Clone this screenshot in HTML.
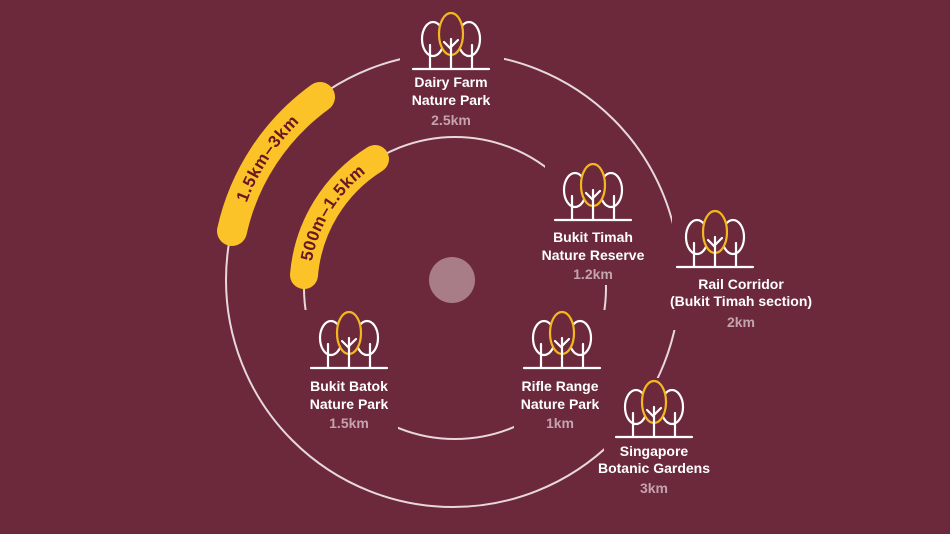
<!DOCTYPE html>
<html><head><meta charset="utf-8"><style>
body{margin:0;background:#6b293b;}
svg{display:block}
.t{font-family:"Liberation Sans",sans-serif;font-weight:bold;font-size:14px;fill:#fff;text-anchor:middle}
.k{font-family:"Liberation Sans",sans-serif;font-weight:bold;font-size:14px;fill:#c4a3ac;text-anchor:middle}
.p{font-family:"Liberation Sans",sans-serif;font-weight:bold;font-size:17px;fill:#6b1525;letter-spacing:1px}
</style></head><body>
<svg width="950" height="534" viewBox="0 0 950 534">
<defs>
<g id="tree" fill="#6b293b" stroke-width="2.2" stroke-linecap="round">
<ellipse cx="-18" cy="-30" rx="11" ry="17" stroke="#fff"/>
<ellipse cx="18" cy="-30" rx="11" ry="17" stroke="#fff"/>
<ellipse cx="0" cy="-35" rx="12" ry="21" stroke="#f4b81f"/>
<g stroke="#fff">
<line x1="-38" y1="0" x2="38" y2="0"/>
<line x1="-21" y1="0" x2="-21" y2="-24"/>
<line x1="21" y1="0" x2="21" y2="-24"/>
<line x1="0" y1="0" x2="0" y2="-30"/>
<line x1="0" y1="-20" x2="-7" y2="-27"/>
<line x1="0" y1="-22" x2="7" y2="-29"/>
</g></g>
<path id="a1" d="M 232 231 A 226 226 0 0 1 320 97"/>
<path id="a2" d="M 304 275 A 152 152 0 0 1 375 159"/>
</defs>
<circle cx="453" cy="280" r="227" fill="none" stroke="#e8d8dc" stroke-width="2"/>
<circle cx="455" cy="288" r="151" fill="none" stroke="#e8d8dc" stroke-width="2"/>
<circle cx="452" cy="280" r="23" fill="#a97d88"/>
<use href="#a1" stroke="#fbc327" stroke-width="30" stroke-linecap="round" fill="none"/>
<use href="#a2" stroke="#fbc327" stroke-width="28" stroke-linecap="round" fill="none"/>
<text class="p" dy="6"><textPath href="#a1" startOffset="50%" text-anchor="middle">1.5km–3km</textPath></text>
<text class="p" dy="6"><textPath href="#a2" startOffset="50%" text-anchor="middle">500m–1.5km</textPath></text>

<rect x="400" y="5" width="104" height="125" fill="#6b293b"/>
<use href="#tree" x="451" y="69"/>
<text class="t" x="451" y="87">Dairy Farm</text><text class="t" x="451" y="105">Nature Park</text><text class="k" x="451" y="125">2.5km</text>

<rect x="545" y="160" width="95" height="125" fill="#6b293b"/>
<use href="#tree" x="593" y="220"/>
<text class="t" x="593" y="242">Bukit Timah</text><text class="t" x="593" y="260">Nature Reserve</text><text class="k" x="593" y="279">1.2km</text>

<rect x="672" y="212" width="133" height="118" fill="#6b293b"/>
<use href="#tree" x="715" y="267"/>
<text class="t" x="741" y="289">Rail Corridor</text><text class="t" x="741" y="306">(Bukit Timah section)</text><text class="k" x="741" y="327">2km</text>

<rect x="302" y="310" width="96" height="125" fill="#6b293b"/>
<use href="#tree" x="349" y="368"/>
<text class="t" x="349" y="391">Bukit Batok</text><text class="t" x="349" y="409">Nature Park</text><text class="k" x="349" y="428">1.5km</text>

<rect x="514" y="310" width="96" height="125" fill="#6b293b"/>
<use href="#tree" x="562" y="368"/>
<text class="t" x="560" y="391">Rifle Range</text><text class="t" x="560" y="409">Nature Park</text><text class="k" x="560" y="428">1km</text>

<rect x="604" y="378" width="104" height="117" fill="#6b293b"/>
<use href="#tree" x="654" y="437"/>
<text class="t" x="654" y="456">Singapore</text><text class="t" x="654" y="473">Botanic Gardens</text><text class="k" x="654" y="493">3km</text>
</svg>
</body></html>
